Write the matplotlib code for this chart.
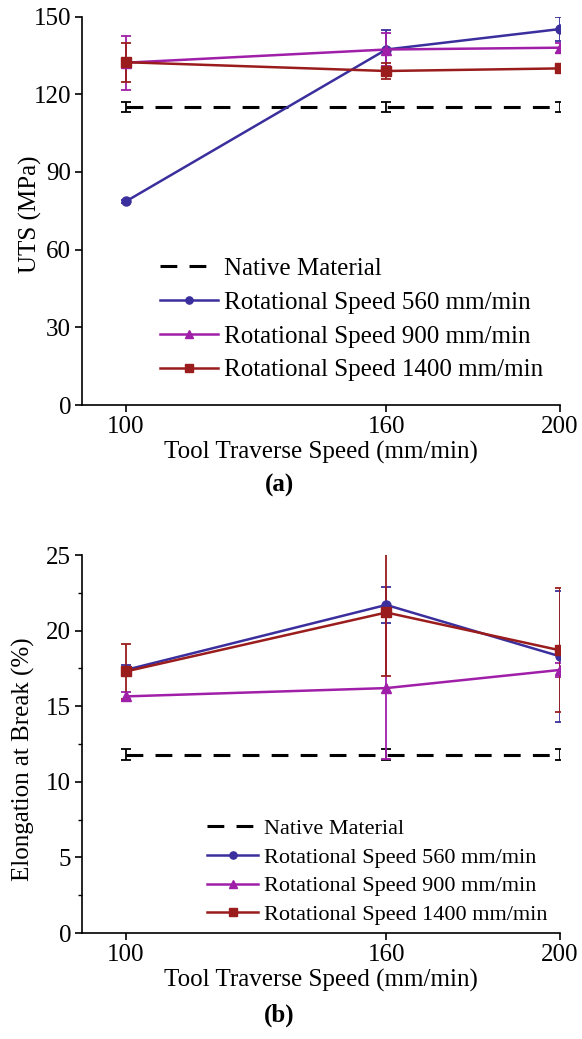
import matplotlib
matplotlib.use("Agg")
import matplotlib.pyplot as plt
from matplotlib.ticker import MultipleLocator

plt.rcParams['font.family'] = ['Liberation Serif', 'DejaVu Serif']
plt.rcParams['mathtext.fontset'] = 'stix'

speed = [100, 160, 200]

# UTS (MPa)
uts_native = [115, 115, 115]
uts_native_err = [2, 2, 2]
uts_560 = [78.6, 137.3, 145.2]
uts_560_err = [0.5, 7.5, 4.8]
uts_900 = [132.2, 137.3, 138.0]
uts_900_err = [10.5, 6.5, 2.0]
uts_1400 = [132.4, 129.0, 130.0]
uts_1400_err = [7.5, 3.0, 1.0]

# Elongation at break (%)
el_native = [11.8, 11.8, 11.8]
el_native_err = [0.35, 0.35, 0.35]
el_560 = [17.4, 21.7, 18.3]
el_560_err = [0.3, 1.2, 4.35]
el_900 = [15.65, 16.2, 17.4]
el_900_err = [0.3, 4.7, 0.45]
el_1400 = [17.3, 21.2, 18.7]
el_1400_err = [1.8, 4.2, 4.1]

labels = ["Native Material",
          "Rotational Speed 560 mm/min",
          "Rotational Speed 900 mm/min",
          "Rotational Speed 1400 mm/min"]
colors = ['black', '#3b2f9e', '#a01fa8', '#9a1c1c']
markers = [None, 'o', '^', 's']

fig = plt.figure(figsize=(5.82, 10.39), dpi=100)
ax1 = fig.add_axes([0.1414, 0.6102, 0.8208, 0.3738])
ax2 = fig.add_axes([0.1414, 0.102, 0.8208, 0.3638])


def draw(ax, series, errs, leg_size, leg_anchor, handlelen, spacing):
    handles = []
    for i, (vals, err) in enumerate(zip(series, errs)):
        if i == 0:
            c = ax.errorbar(speed, vals, yerr=err, color=colors[i], lw=2.2,
                            ls=(0, (5.5, 4)), capsize=3.5, elinewidth=1.3,
                            capthick=1.3)
        else:
            c = ax.errorbar(speed, vals, yerr=err, color=colors[i], lw=1.8,
                            marker=markers[i], ms=6.5, capsize=3.5,
                            elinewidth=1.3, capthick=1.3)
        handles.append(c[0])
    ax.legend(handles, labels, loc='center left', bbox_to_anchor=leg_anchor,
              frameon=False, fontsize=leg_size, handlelength=handlelen,
              handletextpad=0.25, labelspacing=spacing, borderpad=0,
              borderaxespad=0, numpoints=1, markerscale=0.8)
    ax.set_xlim(90, 200)
    ax.set_xticks(speed)
    ax.spines['top'].set_visible(False)
    ax.spines['right'].set_visible(False)
    for s in ['left', 'bottom']:
        ax.spines[s].set_linewidth(1.2)
    ax.tick_params(direction='out', length=5, width=1.2, labelsize=18, pad=3)
    ax.set_xlabel("Tool Traverse Speed (mm/min)", fontsize=18, labelpad=2)


draw(ax1, [uts_native, uts_560, uts_900, uts_1400],
     [uts_native_err, uts_560_err, uts_900_err, uts_1400_err],
     18, (0.163, 0.22), 2.3, 0.45)
ax1.set_ylim(0, 150)
ax1.set_yticks([0, 30, 60, 90, 120, 150])
ax1.set_ylabel("UTS (MPa)", fontsize=18)
ax1.yaxis.set_label_coords(-0.085, 0.49)

draw(ax2, [el_native, el_560, el_900, el_1400],
     [el_native_err, el_560_err, el_900_err, el_1400_err],
     16, (0.2615, 0.162), 2.3, 0.37)
ax2.set_ylim(0, 25)
ax2.set_yticks([0, 5, 10, 15, 20, 25])
ax2.yaxis.set_minor_locator(MultipleLocator(2.5))
ax2.tick_params(axis='y', which='minor', direction='out', length=3, width=1.0)
ax2.set_ylabel("Elongation at Break (%)", fontsize=18)
ax2.yaxis.set_label_coords(-0.1, 0.46)

fig.text(0.48, 1 - 485 / 1039, "(a)", fontsize=18, fontweight='bold',
         ha='center', va='center')
fig.text(0.48, 1 - 1015 / 1039, "(b)", fontsize=18, fontweight='bold',
         ha='center', va='center')

fig.savefig("out.png", dpi=100)
